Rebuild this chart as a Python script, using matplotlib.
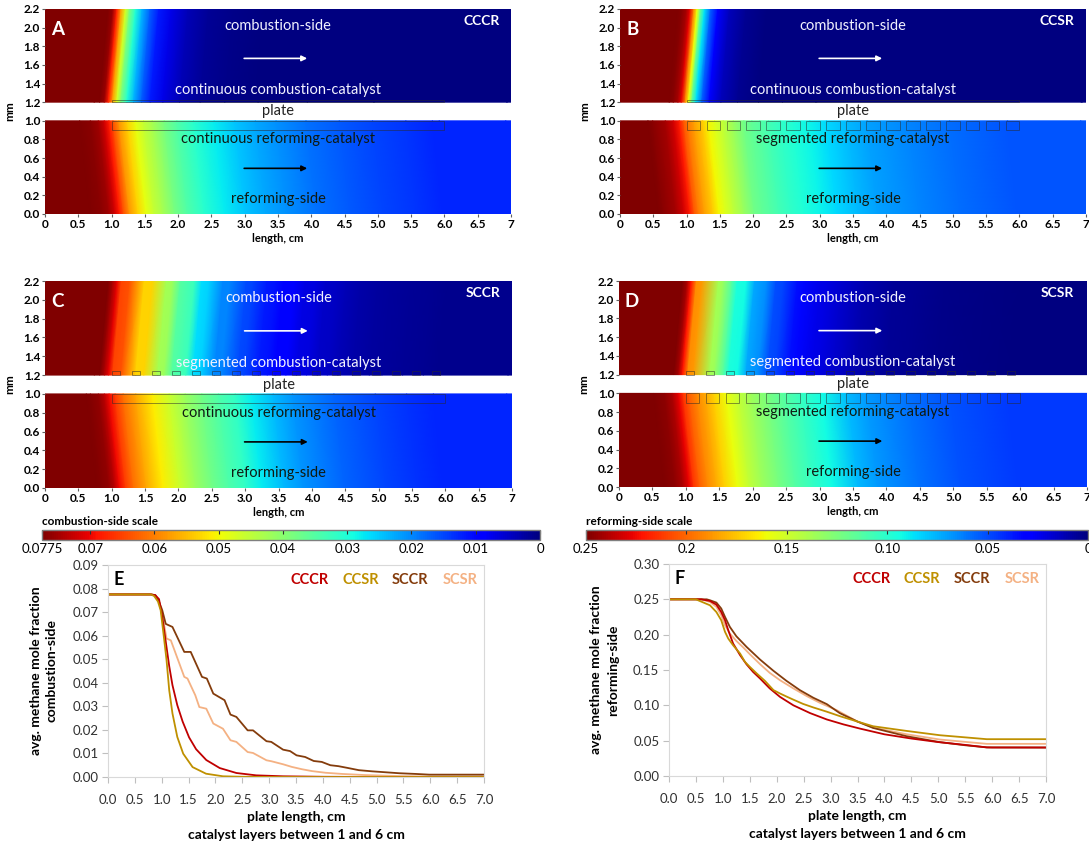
import numpy as np
import matplotlib
matplotlib.use("Agg")
import matplotlib.pyplot as plt
from matplotlib.colors import Normalize
from matplotlib.patches import Rectangle
import matplotlib.colorbar as mcb

plt.rcParams['font.family'] = ['Lato', 'DejaVu Sans']

# ---------------- data: combustion side (panel E) ----------------
x_E_CCCR = [0, 0.8, 0.88, 0.95, 1.01, 1.075, 1.14, 1.2, 1.29, 1.39, 1.51, 1.64, 1.83, 2.08, 2.39, 2.76, 3.26, 4.0, 5.0, 7.0]
y_E_CCCR = [0.0775, 0.0775, 0.0772, 0.0755, 0.068, 0.0575, 0.047, 0.039, 0.0305, 0.0235, 0.0168, 0.0118, 0.0072, 0.0038, 0.0017, 0.0007, 0.0003, 0.0001, 0.0, 0.0]

x_E_CCSR = [0, 0.8, 0.86, 0.93, 0.98, 1.04, 1.09, 1.14, 1.2, 1.29, 1.4, 1.575, 1.825, 2.14, 2.5, 3.0, 7.0]
y_E_CCSR = [0.0775, 0.0775, 0.0768, 0.0745, 0.0708, 0.0595, 0.0496, 0.0368, 0.027, 0.017, 0.0099, 0.0042, 0.0014, 0.0003, 0.0001, 0.0, 0.0]

x_E_SCCR = [0, 0.8, 0.88, 0.95, 1.01, 1.075, 1.2, 1.42, 1.54, 1.75, 1.84, 1.96, 2.17, 2.28, 2.39, 2.6, 2.7, 2.95, 3.04,
            3.26, 3.39, 3.51, 3.67, 3.83, 3.98, 4.14, 4.29, 4.45, 4.67, 4.92, 5.11, 5.42, 5.73, 5.98, 7.0]
y_E_SCCR = [0.0775, 0.0775, 0.0772, 0.0744, 0.0708, 0.065, 0.0637, 0.0531, 0.0531, 0.0425, 0.0418, 0.0354, 0.0326, 0.0265,
            0.0255, 0.0198, 0.0198, 0.0152, 0.0149, 0.0116, 0.011, 0.0092, 0.0085, 0.0068, 0.0064, 0.005, 0.0046, 0.0039,
            0.0029, 0.0024, 0.0021, 0.0016, 0.0013, 0.001, 0.001]

x_E_SCSR = [0, 0.8, 0.88, 0.95, 1.01, 1.09, 1.17, 1.42, 1.48, 1.625, 1.7, 1.83, 1.96, 2.14, 2.28, 2.39, 2.6, 2.7, 2.95,
            3.04, 3.26, 3.42, 3.61, 3.8, 4.05, 4.36, 4.8, 5.42, 5.98, 7.0]
y_E_SCSR = [0.0775, 0.0775, 0.0772, 0.0745, 0.069, 0.0588, 0.058, 0.0425, 0.0418, 0.0347, 0.0297, 0.029, 0.0227, 0.0205,
            0.0156, 0.0149, 0.0106, 0.0102, 0.0071, 0.0067, 0.0054, 0.0043, 0.0033, 0.0025, 0.0018, 0.0013, 0.0008,
            0.0004, 0.0002, 0.0002]

# ---------------- data: reforming side (panel F) ----------------
x_F_CCCR = [0, 0.6, 0.76, 0.88, 0.97, 1.04, 1.1, 1.19, 1.32, 1.44, 1.56, 1.69, 1.87, 2.06, 2.31, 2.62, 2.93, 3.24, 3.55,
            4.0, 4.5, 5.0, 5.5, 5.9, 6.0, 7.0]
y_F_CCCR = [0.25, 0.25, 0.2477, 0.2425, 0.232, 0.2204, 0.2063, 0.1875, 0.171, 0.158, 0.1474, 0.138, 0.124, 0.112, 0.1,
            0.089, 0.08, 0.073, 0.067, 0.059, 0.053, 0.048, 0.044, 0.0405, 0.0403, 0.0403]

x_F_CCSR = [0, 0.5, 0.57, 0.76, 0.88, 0.97, 1.04, 1.1, 1.19, 1.32, 1.41, 1.5, 1.63, 1.78, 1.94, 2.06, 2.18, 2.31, 2.49,
            2.68, 2.93, 3.18, 3.5, 3.79, 4.41, 5.03, 5.9, 7.0]
y_F_CCSR = [0.25, 0.25, 0.2477, 0.2416, 0.232, 0.2204, 0.204, 0.1945, 0.185, 0.1733, 0.1615, 0.1545, 0.145, 0.1347,
            0.1215, 0.1168, 0.1125, 0.108, 0.102, 0.097, 0.091, 0.0845, 0.077, 0.0704, 0.0638, 0.0577, 0.0521, 0.0521]

x_F_SCCR = [0, 0.7, 0.76, 0.88, 0.97, 1.04, 1.13, 1.25, 1.44, 1.69, 1.94, 2.18, 2.43, 2.68, 2.93, 3.17, 3.5, 3.79, 4.41,
            5.03, 5.5, 5.9, 7.0]
y_F_SCCR = [0.25, 0.25, 0.2487, 0.2454, 0.237, 0.2251, 0.211, 0.1978, 0.1827, 0.1648, 0.1488, 0.1347, 0.1215, 0.1107,
            0.1017, 0.089, 0.077, 0.068, 0.0563, 0.0479, 0.0435, 0.0405, 0.0403]

x_F_SCSR = [0, 0.6, 0.76, 0.88, 0.97, 1.04, 1.13, 1.25, 1.38, 1.5, 1.69, 1.87, 2.06, 2.31, 2.56, 2.8, 3.11, 3.5, 3.79,
            4.41, 5.03, 5.9, 7.0]
y_F_SCSR = [0.25, 0.25, 0.2463, 0.2393, 0.2275, 0.2134, 0.2016, 0.1912, 0.1818, 0.1724, 0.1583, 0.146, 0.1356, 0.1239,
            0.113, 0.1036, 0.0933, 0.077, 0.0685, 0.0591, 0.0516, 0.0455, 0.0455]

configs = ['CCCR', 'CCSR', 'SCCR', 'SCSR']
config_colors = ['#C00000', '#BF9000', '#843C0C', '#F4B183']
panel_letters = ['A', 'B', 'C', 'D']
comb_catalyst_labels = ['continuous combustion-catalyst', 'continuous combustion-catalyst',
                        'segmented combustion-catalyst', 'segmented combustion-catalyst']
ref_catalyst_labels = ['continuous reforming-catalyst', 'segmented reforming-catalyst',
                       'continuous reforming-catalyst', 'segmented reforming-catalyst']

COMB_MAX = 0.0775
REF_MAX = 0.25
comb_ticks = [0.0775, 0.07, 0.06, 0.05, 0.04, 0.03, 0.02, 0.01, 0]
comb_tick_labels = ['0.0775', '0.07', '0.06', '0.05', '0.04', '0.03', '0.02', '0.01', '0']
ref_ticks = [0.25, 0.2, 0.15, 0.10, 0.05, 0]
ref_tick_labels = ['0.25', '0.2', '0.15', '0.10', '0.05', '0']

heat_xticks = [0, 0.5, 1.0, 1.5, 2.0, 2.5, 3.0, 3.5, 4.0, 4.5, 5.0, 5.5, 6.0, 6.5, 7.0]
heat_xticklabels = ['0', '0.5', '1.0', '1.5', '2.0', '2.5', '3.0', '3.5', '4.0', '4.5', '5.0', '5.5', '6.0', '6.5', '7']
heat_yticks = [0.0, 0.2, 0.4, 0.6, 0.8, 1.0, 1.2, 1.4, 1.6, 1.8, 2.0, 2.2]

comb_series_x = [x_E_CCCR, x_E_CCSR, x_E_SCCR, x_E_SCSR]
comb_series_y = [y_E_CCCR, y_E_CCSR, y_E_SCCR, y_E_SCSR]
ref_series_x = [x_F_CCCR, x_F_CCSR, x_F_SCCR, x_F_SCSR]
ref_series_y = [y_F_CCCR, y_F_CCSR, y_F_SCCR, y_F_SCSR]
comb_segmented = [False, False, True, True]
ref_segmented = [False, True, False, True]

# --------------- figure ----------------
W, H = 1089, 850
fig = plt.figure(figsize=(W / 100, H / 100), dpi=100)


def ax_px(l, t, r, b):
    return fig.add_axes([l / W, 1 - b / H, (r - l) / W, (b - t) / H])


def field(ax, xs, vs, y_cat, y_far, shift_cat, shift_far, vmax):
    xs = np.asarray(xs, float)
    vs = np.asarray(vs, float)
    row_cat = np.concatenate([[-1.0], xs + shift_cat, [8.0]])
    row_far = np.concatenate([[-1.0], xs + shift_far, [8.0]])
    vals = np.concatenate([[vs[0]], vs, [vs[-1]]])
    X = np.vstack([row_cat, row_far])
    Y = np.vstack([np.full(len(vals), y_cat), np.full(len(vals), y_far)])
    ax.pcolormesh(X, Y, np.vstack([vals, vals]), shading='gouraud', cmap='jet', vmin=0, vmax=vmax)


heat_boxes = [(45, 9, 511, 214), (620, 9, 1086, 214), (45, 281, 512, 488), (619, 281, 1087, 487)]
seg_start, seg_pitch, seg_count = 1.0, 0.3, 17
cat_edge = dict(fill=False, ec='#2a2a2a', lw=0.6, alpha=0.6)

for i, box in enumerate(heat_boxes):
    ax = ax_px(*box)
    ax.set_facecolor('white')
    field(ax, comb_series_x[i], comb_series_y[i], 1.2, 2.2, -0.06, 0.07, COMB_MAX)
    field(ax, ref_series_x[i], ref_series_y[i], 1.0, 0.0, -0.08, 0.08, REF_MAX)
    ax.set_xlim(0, 7)
    ax.set_ylim(0, 2.2)
    for s in ax.spines.values():
        s.set_visible(False)
    ax.set_xticks(heat_xticks)
    ax.set_xticklabels(heat_xticklabels)
    ax.set_yticks(heat_yticks)
    ax.set_yticklabels(['%.1f' % v for v in heat_yticks])
    ax.tick_params(labelsize=8.5, length=2, pad=1.5, color='#606060')
    for lab in ax.get_xticklabels() + ax.get_yticklabels():
        lab.set_fontweight('bold')
    ax.set_xlabel('length, cm', fontsize=8, fontweight='bold')
    ax.xaxis.set_label_coords(0.5, -19 / (box[3] - box[1]))
    ax.set_ylabel('mm', fontsize=8.5, fontweight='bold')
    ax.yaxis.set_label_coords(-30 / (box[2] - box[0]), 0.5)

    # catalyst layers
    if comb_segmented[i]:
        for k in range(seg_count):
            ax.add_patch(Rectangle((seg_start + k * seg_pitch, 1.2), 0.12, 0.04, **cat_edge))
    else:
        ax.add_patch(Rectangle((1.0, 1.2), 5.0, 0.025, **cat_edge))
    if ref_segmented[i]:
        for k in range(seg_count):
            ax.add_patch(Rectangle((seg_start + k * seg_pitch, 0.9), 0.2, 0.1, **cat_edge))
    else:
        ax.add_patch(Rectangle((1.0, 0.9), 5.0, 0.1, **cat_edge))

    ax.text(0.19, 1.98, panel_letters[i], color='white', fontsize=13.5, fontweight='bold', ha='center', va='center')
    ax.text(6.56, 2.07, configs[i], color='white', fontsize=10, fontweight='bold', ha='center', va='center')
    ax.text(3.5, 2.02, 'combustion-side', color='#F2F2FF', fontsize=10.5, ha='center', va='center')
    ax.annotate('', xy=(3.98, 1.67), xytext=(2.95, 1.67),
                arrowprops=dict(arrowstyle='-|>', color='white', lw=1.2, mutation_scale=8))
    ax.text(3.5, 1.33, comb_catalyst_labels[i], color='#F2F2FF', fontsize=10.5, ha='center', va='center')
    ax.text(3.5, 1.1, 'plate', color='#222222', fontsize=10.5, ha='center', va='center')
    ax.text(3.5, 0.8, ref_catalyst_labels[i], color='#0f1a12', fontsize=10.5, ha='center', va='center')
    ax.annotate('', xy=(3.98, 0.49), xytext=(2.95, 0.49),
                arrowprops=dict(arrowstyle='-|>', color='black', lw=1.2, mutation_scale=8))
    ax.text(3.5, 0.16, 'reforming-side', color='#0f1a12', fontsize=10.5, ha='center', va='center')

# --------------- colour scales ----------------
def scale_bar(l, t, r, b, vmax, ticks, labels, title):
    cax = ax_px(l, t, r, b)
    cb = mcb.ColorbarBase(cax, cmap=plt.get_cmap('jet'), norm=Normalize(0, vmax), orientation='horizontal')
    cax.invert_xaxis()
    cb.set_ticks(ticks)
    cb.set_ticklabels(labels)
    cb.outline.set_edgecolor('#7F7F7F')
    cb.outline.set_linewidth(1.0)
    cax.tick_params(axis='x', direction='in', length=3, top=True, bottom=False, labeltop=False, labelbottom=True,
                    labelsize=9.5, pad=2, color='#303030')
    fig.text(l / W, 1 - (t - 3) / H, title, fontsize=8.5, fontweight='bold', ha='left', va='bottom')


scale_bar(42, 530, 540, 540, COMB_MAX, comb_ticks, comb_tick_labels, 'combustion-side scale')
scale_bar(586, 530, 1088, 540, REF_MAX, ref_ticks, ref_tick_labels, 'reforming-side scale')

# --------------- line charts ----------------
line_boxes = [(108, 565, 484, 777), (669, 564, 1046, 776)]
line_x = [[x_E_CCCR, x_E_CCSR, x_E_SCCR, x_E_SCSR], [x_F_CCCR, x_F_CCSR, x_F_SCCR, x_F_SCSR]]
line_y = [[y_E_CCCR, y_E_CCSR, y_E_SCCR, y_E_SCSR], [y_F_CCCR, y_F_CCSR, y_F_SCCR, y_F_SCSR]]
ylims = [0.09, 0.30]
ysteps = [0.01, 0.05]
ylabels = ['avg. methane mole fraction\ncombustion-side', 'avg. methane mole fraction\nreforming-side']
letters = ['E', 'F']
draw_order = [3, 2, 0, 1]

for j, box in enumerate(line_boxes):
    ax = ax_px(*box)
    for k in draw_order:
        ax.plot(line_x[j][k], line_y[j][k], color=config_colors[k], lw=1.3)
    ax.set_xlim(0, 7)
    ax.set_ylim(0, ylims[j])
    ax.set_xticks(np.arange(0, 7.01, 0.5))
    ax.set_xticklabels(['%.1f' % v for v in np.arange(0, 7.01, 0.5)])
    yt = np.arange(0, ylims[j] + 1e-9, ysteps[j])
    ax.set_yticks(yt)
    ax.set_yticklabels(['%.2f' % v for v in yt])
    for s in ax.spines.values():
        s.set_color('#D9D9D9')
    ax.tick_params(labelsize=9.5, colors='#303030', length=4, width=0.8)
    ax.tick_params(axis='x', pad=8, color='#BFBFBF')
    ax.tick_params(axis='y', color='#BFBFBF', pad=3)
    ax.set_xlabel('plate length, cm\ncatalyst layers between 1 and 6 cm', fontsize=10, fontweight='bold',
                  linespacing=1.6)
    ax.xaxis.set_label_coords(0.5, -34 / (box[3] - box[1]))
    ax.set_ylabel(ylabels[j], fontsize=10, fontweight='bold', linespacing=1.45)
    ax.yaxis.set_label_coords(-50 / (box[2] - box[0]), 0.5)
    top = ylims[j]
    ax.text(0.19, top * 0.93, letters[j], fontsize=13, fontweight='bold', ha='center', va='center')
    for k, name in enumerate(configs):
        ax.text([3.76, 4.7, 5.63, 6.56][k], top * 0.93, name, color=config_colors[k], fontsize=10.5,
                fontweight='bold', ha='center', va='center')

fig.savefig('out.png', dpi=100)
